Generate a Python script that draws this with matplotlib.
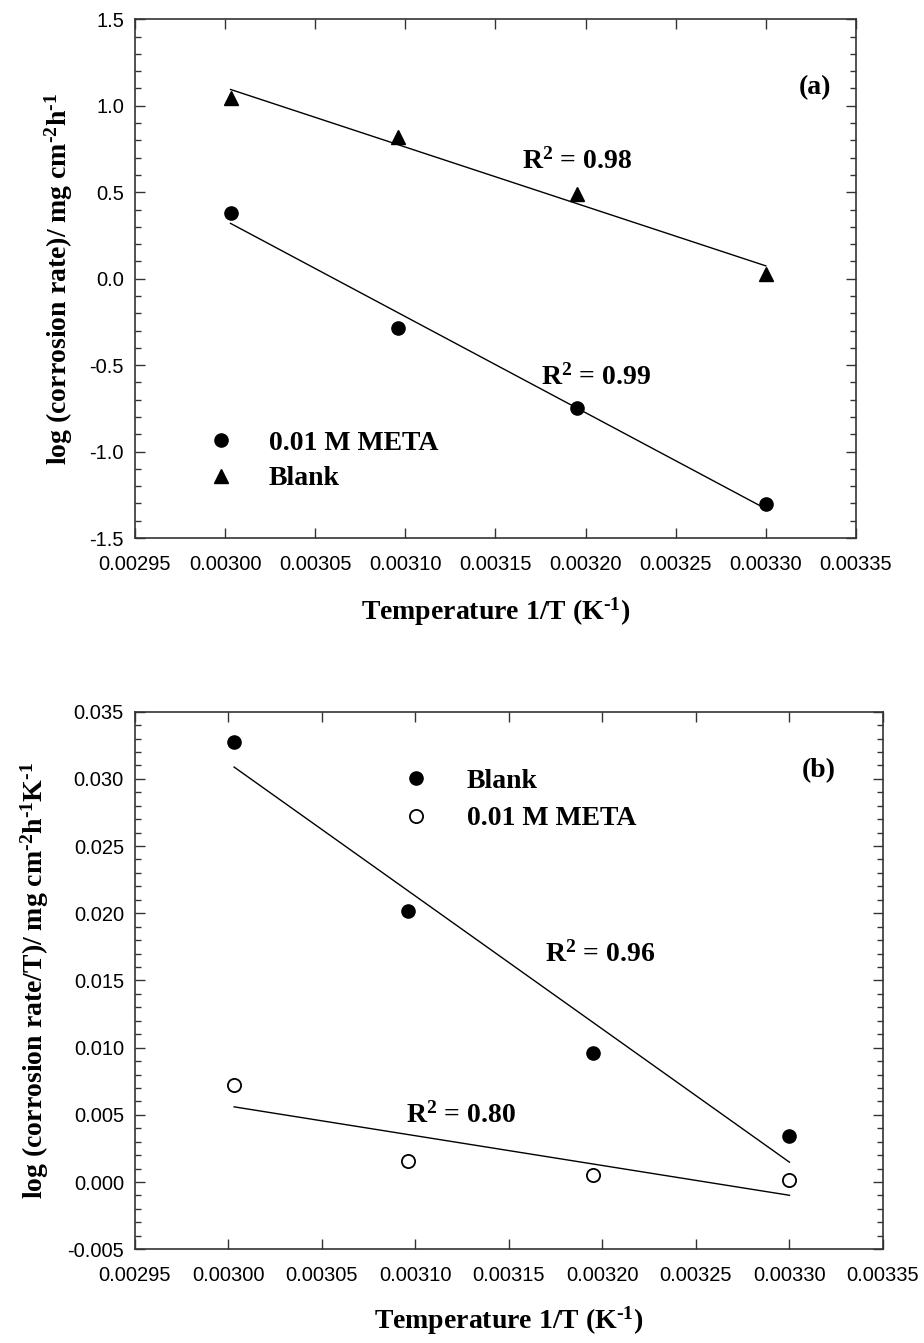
import numpy as np
import matplotlib
matplotlib.use("Agg")
import matplotlib.pyplot as plt
from matplotlib.ticker import MultipleLocator, FormatStrFormatter

plt.rcParams['axes.unicode_minus'] = False
plt.rcParams['mathtext.fontset'] = 'custom'
plt.rcParams['mathtext.rm'] = 'Liberation Serif:bold'
plt.rcParams['mathtext.it'] = 'Liberation Serif:bold'
plt.rcParams['mathtext.bf'] = 'Liberation Serif:bold'

# 1/T values (K^-1)
inv_T = [0.003003, 0.003096, 0.003195, 0.003300]

# panel (a): log(corrosion rate)
log_cr_blank = [1.045, 0.82, 0.487, 0.026]
log_cr_meta = [0.380, -0.284, -0.749, -1.303]

# panel (b): log(corrosion rate/T)
log_crT_blank = [0.03272, 0.02017, 0.00958, 0.00343]
log_crT_meta = [0.00722, 0.00159, 0.00053, 0.00015]

serif = dict(family='Liberation Serif', fontweight='bold', fontsize=20)
sans = 'Liberation Sans'


def fit_line(ax, x, y):
    x = np.array(x)
    k, b = np.polyfit(x, y, 1)
    xx = np.array([x.min(), x.max()])
    ax.plot(xx, k * xx + b, color='black', lw=1.0)


def style(ax):
    for s in ax.spines.values():
        s.set_color('#333333')
        s.set_linewidth(1.2)
    ax.tick_params(which='both', direction='in', top=True, right=True,
                   colors='#333333', labelcolor='black', labelsize=14.5, pad=8)
    ax.tick_params(axis='x', pad=12)
    ax.tick_params(which='major', length=7, width=1.0)
    ax.tick_params(which='minor', length=4, width=1.0)
    for lab in ax.get_xticklabels() + ax.get_yticklabels():
        lab.set_family(sans)
    ax.xaxis.set_major_locator(MultipleLocator(0.00005))
    ax.xaxis.set_major_formatter(FormatStrFormatter('%.5f'))
    ax.set_xlim(0.00295, 0.00335)


fig = plt.figure(figsize=(9.24, 13.43), dpi=100)

# ---- panel (a)
ax1 = fig.add_axes([0.1461, 0.5994, 0.7803, 0.3862])
ax1.set_ylim(-1.5, 1.5)
ax1.yaxis.set_major_locator(MultipleLocator(0.5))
ax1.yaxis.set_minor_locator(MultipleLocator(0.1))
ax1.yaxis.set_major_formatter(FormatStrFormatter('%.1f'))
style(ax1)

ax1.plot(inv_T, log_cr_meta, 'o', color='black', ms=9.5, label='0.01 M META')
ax1.plot(inv_T, log_cr_blank, '^', color='black', ms=9.5, label='Blank')
fit_line(ax1, inv_T, log_cr_blank)
fit_line(ax1, inv_T, log_cr_meta)

ax1.text(0.0031648, 0.639, r'R$^{2}$ = 0.98', ha='left', va='baseline', **serif)
ax1.text(0.0031750, -0.614, r'R$^{2}$ = 0.99', ha='left', va='baseline', **serif)
ax1.text(0.0033183, 1.066, '(a)', ha='left', va='baseline', **serif)

leg1 = ax1.legend(loc='upper left', bbox_to_anchor=(0.10, 0.208), frameon=False,
                  borderpad=0, borderaxespad=0, handlelength=1.0,
                  handletextpad=1.23, labelspacing=0.37,
                  prop=dict(family='Liberation Serif', weight='bold', size=20))

ax1.set_xlabel(r'Temperature 1/T (K$^{\text{-}1}$)', **serif)
ax1.set_ylabel(r'log (corrosion rate)/ mg cm$^{\text{-}2}$h$^{\text{-}1}$', **serif)
ax1.xaxis.set_label_coords(0.5, -0.11)
ax1.yaxis.set_label_coords(-0.083, 0.5)

# ---- panel (b)
ax2 = fig.add_axes([0.1461, 0.0698, 0.8095, 0.4003])
ax2.set_ylim(-0.005, 0.035)
ax2.yaxis.set_major_locator(MultipleLocator(0.005))
ax2.yaxis.set_minor_locator(MultipleLocator(0.001))
ax2.yaxis.set_major_formatter(FormatStrFormatter('%.3f'))
style(ax2)

ax2.plot(inv_T, log_crT_blank, 'o', color='black', ms=9.5, label='Blank')
ax2.plot(inv_T, log_crT_meta, 'o', mfc='white', mec='black', mew=1.3, ms=9.5,
         label='0.01 M META')
fit_line(ax2, inv_T, log_crT_blank)
fit_line(ax2, inv_T, log_crT_meta)

ax2.text(0.0031692, 0.01640, r'R$^{2}$ = 0.96', ha='left', va='baseline', **serif)
ax2.text(0.0030949, 0.00442, r'R$^{2}$ = 0.80', ha='left', va='baseline', **serif)
ax2.text(0.0033065, 0.03016, '(b)', ha='left', va='baseline', **serif)

leg2 = ax2.legend(loc='upper left', bbox_to_anchor=(0.3567, 0.894), frameon=False,
                  borderpad=0, borderaxespad=0, handlelength=1.0,
                  handletextpad=1.33, labelspacing=0.43,
                  prop=dict(family='Liberation Serif', weight='bold', size=20))

ax2.set_xlabel(r'Temperature 1/T (K$^{\text{-}1}$)', **serif)
ax2.set_ylabel(r'log (corrosion rate/T)/ mg cm$^{\text{-}2}$h$^{\text{-}1}$K$^{\text{-}1}$',
               **serif)
ax2.xaxis.set_label_coords(0.5, -0.102)
ax2.yaxis.set_label_coords(-0.112, 0.5)

fig.savefig('out.png', dpi=100)
